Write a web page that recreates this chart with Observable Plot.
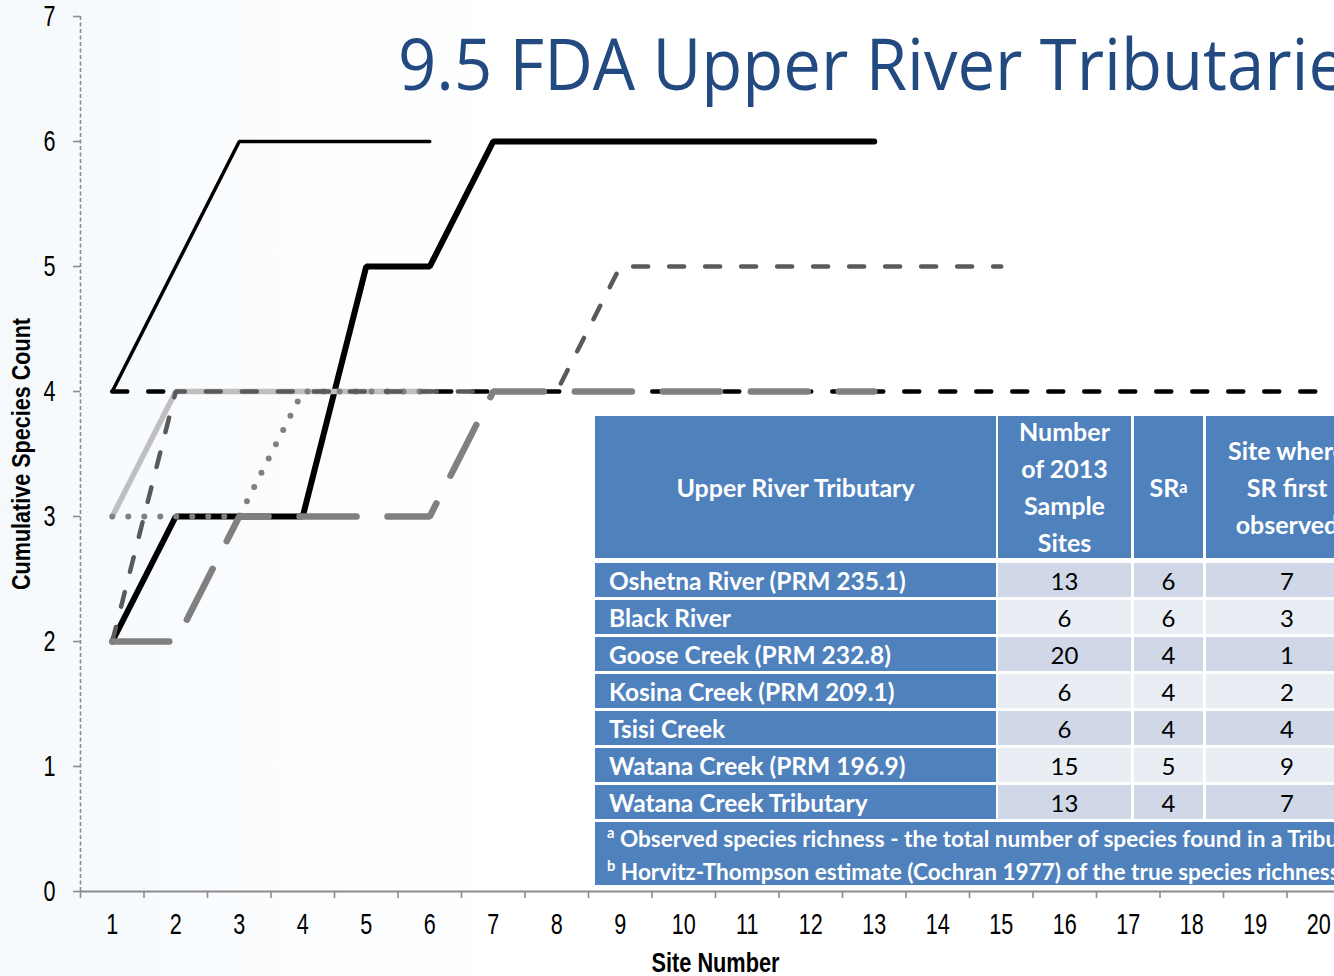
<!DOCTYPE html>
<html>
<head>
<meta charset="utf-8">
<script src="https://cdn.jsdelivr.net/npm/d3@7"></script>
<script src="https://cdn.jsdelivr.net/npm/@observablehq/plot@0.6"></script>
<style>
  html, body { margin: 0; padding: 0; }
  body {
    width: 1334px; height: 976px; overflow: hidden; position: relative;
    background: linear-gradient(90deg, #f5f9fc 0px, #fafcfe 250px, #ffffff 520px);
  }
  #chart { position: absolute; left: 0; top: 0; width: 1360px; }
  #chart svg { max-width: none !important; }
  #title { position: absolute; left: 0; top: 0; }
  #table { position: absolute; left: 0; top: 0; font-family: Lato, "Open Sans", sans-serif; }
  .cell { position: absolute; box-sizing: border-box; display: flex; align-items: center; }
  .hdr { background: #4f81bd; color: #fff; font-weight: 700; font-size: 25px; line-height: 37px; justify-content: center; text-align: center; }
  .name { background: #4f81bd; color: #fff; font-weight: 700; font-size: 24.5px; padding-left: 14px; white-space: nowrap; }
  .num { color: #000; font-size: 24px; justify-content: center; }
  .foot { background: #4f81bd; color: #fff; font-weight: 700; font-size: 22.6px; white-space: nowrap; padding-left: 12px; display: block; line-height: 33px; }
  sup { font-size: 0.65em; vertical-align: 0.6em; line-height: 0; }
</style>
</head>
<body>
<div id="chart"></div>
<svg id="title" width="1334" height="130"></svg>
<div id="table"></div>
<script>
// ---------- data ----------
const tributaries = [
  "Oshetna River (PRM 235.1)",
  "Black River",
  "Goose Creek (PRM 232.8)",
  "Kosina Creek (PRM 209.1)",
  "Tsisi Creek",
  "Watana Creek (PRM 196.9)",
  "Watana Creek Tributary"
];
const sampleSites   = [13, 6, 20, 6, 6, 15, 13];
const speciesRich   = [6, 6, 4, 4, 4, 5, 4];
const firstObserved = [7, 3, 1, 2, 4, 9, 7];

// cumulative species count by site number (site 1, 2, 3, ...)
const oshetnaCounts    = [2, 3, 3, 3, 5, 5, 6, 6, 6, 6, 6, 6, 6];
const blackCounts      = [4, 5, 6, 6, 6, 6];
const gooseCounts      = [4, 4, 4, 4, 4, 4, 4, 4, 4, 4, 4, 4, 4, 4, 4, 4, 4, 4, 4, 4];
const kosinaCounts     = [3, 4, 4, 4, 4, 4];
const tsisiCounts      = [3, 3, 3, 4, 4, 4];
const watanaCounts     = [2, 4, 4, 4, 4, 4, 4, 4, 5, 5, 5, 5, 5, 5, 5];
const watanaTribCounts = [2, 2, 3, 3, 3, 3, 4, 4, 4, 4, 4, 4, 4];

const xTickLabels = [1, 2, 3, 4, 5, 6, 7, 8, 9, 10, 11, 12, 13, 14, 15, 16, 17, 18, 19, 20];
const yTickLabels = [0, 1, 2, 3, 4, 5, 6, 7];

const titleText = "9.5 FDA Upper River Tributaries";
const xLabel = "Site Number";
const yLabel = "Cumulative Species Count";
const headerLabels = ["Upper River Tributary", "Number<br>of 2013<br>Sample<br>Sites", "SR<sup>a</sup>", "Site where<br>SR first<br>observed"];
const footnotes = [
  "<sup>a</sup> Observed species richness - the total number of species found in a Tributary",
  "<sup>b</sup> Horvitz-Thompson estimate (Cochran 1977) of the true species richness"
];

// ---------- styles (one per series, in drawing order) ----------
const seriesCounts = [oshetnaCounts, blackCounts, gooseCounts, kosinaCounts, tsisiCounts, watanaCounts, watanaTribCounts];
const seriesStyle = [
  {stroke: "#000000", strokeWidth: 6},
  {stroke: "#000000", strokeWidth: 3.5},
  {stroke: "#000000", strokeWidth: 4.5, strokeDasharray: "15,21"},
  {stroke: "#bfbfbf", strokeWidth: 5.5},
  {stroke: "#808080", strokeWidth: 6, strokeDasharray: "0,16"},
  {stroke: "#5a5a5a", strokeWidth: 4.5, strokeDasharray: "15,21"},
  {stroke: "#808080", strokeWidth: 6.5, strokeDasharray: "57,31"}
];

const lineMarks = seriesCounts.map((counts, k) => {
  const rows = counts.map((c, i) => ({site: i + 1, count: c, tributary: tributaries[k]}));
  return Plot.line(rows, {
    x: "site", y: "count",
    strokeLinecap: "round", strokeLinejoin: "miter",
    ...seriesStyle[k]
  });
});

const boundaries = d3.range(0, xTickLabels.length + 1).map(i => i + 0.5);
const axisFont = "'Liberation Sans', Arial, sans-serif";

const chart = Plot.plot({
  width: 1360, height: 976,
  marginLeft: 80, marginRight: 10, marginTop: 16, marginBottom: 85,
  x: {type: "linear", domain: [0.5, 20.5]},
  y: {type: "linear", domain: [0, 7]},
  style: {background: "transparent", fontFamily: axisFont, overflow: "visible", maxWidth: "none"},
  marks: [
    Plot.ruleX([0.5], {y1: 0, y2: 7, stroke: "#8c8c8c", strokeWidth: 1.6, strokeDasharray: "4,2.5"}),
    Plot.axisY({ticks: yTickLabels, tickSize: 7, tickPadding: 18, fontSize: 30, stroke: "#8c8c8c", strokeWidth: 1.6, fill: "#000", label: null, tickFormat: d => String(d)}),
    Plot.axisX({ticks: boundaries, tickSize: 7, tickFormat: () => "", stroke: "#8c8c8c", strokeWidth: 1.6, label: null}),
    Plot.axisX({ticks: xTickLabels, tickSize: 0, tickPadding: 21, fontSize: 30, fill: "#000", label: null, tickFormat: d => String(d)}),
    Plot.ruleY([0], {x1: 0.5, x2: 20.5, stroke: "#8c8c8c", strokeWidth: 2}),
    ...lineMarks,
    Plot.text([xLabel], {frameAnchor: "bottom", dy: 80, fontSize: 27, fontWeight: "bold", fill: "#000", textAnchor: "middle"}),
    Plot.text([yLabel], {frameAnchor: "left", dx: -59, rotate: -90, fontSize: 26, fontWeight: "bold", fill: "#000", textAnchor: "middle"})
  ]
});
document.getElementById("chart").appendChild(chart);

// condense the axis texts to a narrow face (the reference uses a narrow font)
const svg = d3.select(chart.tagName.toLowerCase() === "svg" ? chart : chart.querySelector("svg"));
svg.selectAll("g[aria-label='y-axis tick label'] text, g[aria-label='x-axis tick label'] text").each(function () {
  const w = this.getComputedTextLength();
  if (w > 0) d3.select(this).attr("textLength", w * 0.72).attr("lengthAdjust", "spacingAndGlyphs");
});
svg.selectAll("g[aria-label='text'] text").each(function () {
  const t = this.textContent;
  const target = t === xLabel ? 128 : t === yLabel ? 272 : null;
  if (target) d3.select(this).attr("textLength", target).attr("lengthAdjust", "spacingAndGlyphs");
});

// ---------- title ----------
d3.select("#title").append("text")
  .attr("x", 398).attr("y", 90)
  .attr("font-family", "'Open Sans', 'Noto Sans', sans-serif")
  .attr("font-size", 72)
  .attr("fill", "#234a80")
  .attr("textLength", 980)
  .attr("lengthAdjust", "spacingAndGlyphs")
  .text(titleText);

// ---------- table ----------
const colEdges = [[595, 996], [998, 1131], [1134, 1203], [1206, 1368]];
const tbl = d3.select("#table");
const headerTop = 416, headerBottom = 558;
headerLabels.forEach((h, j) => {
  tbl.append("div").attr("class", "cell hdr")
    .style("left", colEdges[j][0] + "px").style("top", headerTop + "px")
    .style("width", (colEdges[j][1] - colEdges[j][0]) + "px")
    .style("height", (headerBottom - headerTop) + "px")
    .html(h);
});
const rowTop = 563, rowStep = 37, rowH = 34;
tributaries.forEach((name, i) => {
  const top = rowTop + i * rowStep;
  const bg = i % 2 === 0 ? "#d0d8e8" : "#e9edf4";
  tbl.append("div").attr("class", "cell name")
    .style("left", colEdges[0][0] + "px").style("top", top + "px")
    .style("width", (colEdges[0][1] - colEdges[0][0]) + "px").style("height", rowH + "px")
    .text(name);
  [sampleSites[i], speciesRich[i], firstObserved[i]].forEach((v, j) => {
    const e = colEdges[j + 1];
    tbl.append("div").attr("class", "cell num")
      .style("left", e[0] + "px").style("top", top + "px")
      .style("width", (e[1] - e[0]) + "px").style("height", rowH + "px")
      .style("background", bg)
      .text(v);
  });
});
tbl.append("div").attr("class", "cell foot")
  .style("left", "595px").style("top", "822px")
  .style("width", "800px").style("height", "63px")
  .html(footnotes.join("<br>"));
</script>
</body>
</html>
